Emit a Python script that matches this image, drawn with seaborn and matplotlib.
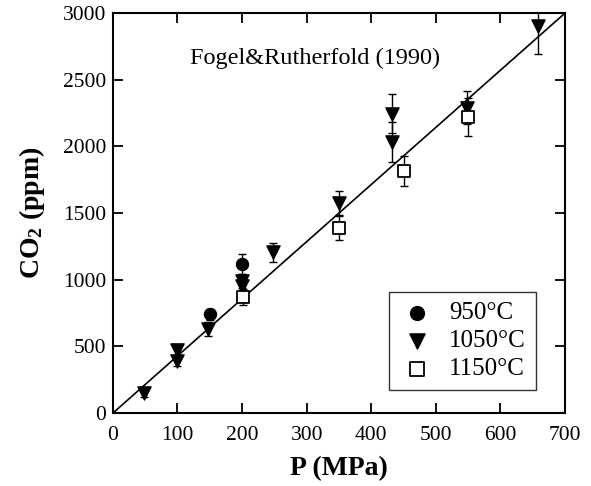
import matplotlib
matplotlib.use("Agg")
import matplotlib.pyplot as plt
import seaborn as sns
import numpy as np
import pandas as pd

sns.set_style("ticks")
plt.rcParams['font.family'] = ['Liberation Serif', 'DejaVu Serif']
plt.rcParams['mathtext.fontset'] = 'custom'
plt.rcParams['mathtext.rm'] = 'Liberation Serif'
plt.rcParams['mathtext.bf'] = 'Liberation Serif:bold'
plt.rcParams['text.color'] = 'black'
plt.rcParams['axes.labelcolor'] = 'black'
plt.rcParams['xtick.color'] = 'black'
plt.rcParams['ytick.color'] = 'black'

# Data
p950 = [150, 200]
co2_950 = [740, 1115]
err_950 = [40, 75]

p1050 = [48, 100, 100, 148, 200, 200, 248, 350, 432, 432, 548, 658]
co2_1050 = [150, 475, 390, 630, 990, 955, 1205, 1575, 2245, 2035, 2290, 2900]
err_1050 = [30, 40, 40, 50, 50, 50, 70, 90, 145, 150, 125, 210]

p1150 = [202, 350, 450, 550]
co2_1150 = [870, 1390, 1815, 2220]
err_1150 = [60, 90, 115, 140]

fit_p = [0, 700]
fit_co2 = [0, 3000]

labels = ["950°C", "1050°C", "1150°C"]

fig = plt.figure(figsize=(5.91, 4.86), dpi=100)
ax = fig.add_axes([0.191, 0.150, 0.765, 0.823])

sns.lineplot(x=fit_p, y=fit_co2, ax=ax, color='black', lw=1.2, zorder=1)

ekw = dict(fmt='none', ecolor='black', elinewidth=1.0, capsize=3, capthick=1.0, zorder=2)
ax.errorbar(p950, co2_950, yerr=err_950, **ekw)
ax.errorbar(p1050, co2_1050, yerr=err_1050, **ekw)
ax.errorbar(p1150, co2_1150, yerr=err_1150, **ekw)

sns.scatterplot(x=p950, y=co2_950, ax=ax, marker='o', s=75, color='black',
                edgecolor='black', linewidth=1, label=labels[0], zorder=3)
sns.scatterplot(x=p1050, y=co2_1050, ax=ax, marker='v', s=90, color='black',
                edgecolor='black', linewidth=1, label=labels[1], zorder=3)
sns.scatterplot(x=p1150, y=co2_1150, ax=ax, marker='s', s=80, color='white',
                edgecolor='black', linewidth=1.3, label=labels[2], zorder=3)

ax.set_xlim(0, 700)
ax.set_ylim(0, 3000)
ax.set_xticks(np.arange(0, 701, 100))
ax.set_yticks(np.arange(0, 3001, 500))
ax.tick_params(direction='in', length=7, width=1.3, top=True, right=True,
               labelsize=15.5, colors='black', pad=5)
ax.tick_params(axis='x', pad=9)
for s in ax.spines.values():
    s.set_linewidth(1.5)
    s.set_color('black')

ax.set_xlabel('P (MPa)', fontsize=20, fontweight='bold', labelpad=8)
ax.set_ylabel(r'$\mathbf{CO_2}$ (ppm)', fontsize=20, fontweight='bold', labelpad=11)

ax.text(0.447, 0.888, 'Fogel&Rutherfold (1990)', transform=ax.transAxes,
        ha='center', va='center', fontsize=17.5)

leg = ax.legend(loc='lower right', bbox_to_anchor=(0.936, 0.0575), borderaxespad=0,
                fontsize=18, frameon=True, fancybox=False, edgecolor='black',
                handletextpad=0.6, borderpad=0.4, labelspacing=0.22, handlelength=1.4,
                markerscale=1.15)
leg.get_frame().set_linewidth(1.0)

fig.savefig('out.png', dpi=100)
